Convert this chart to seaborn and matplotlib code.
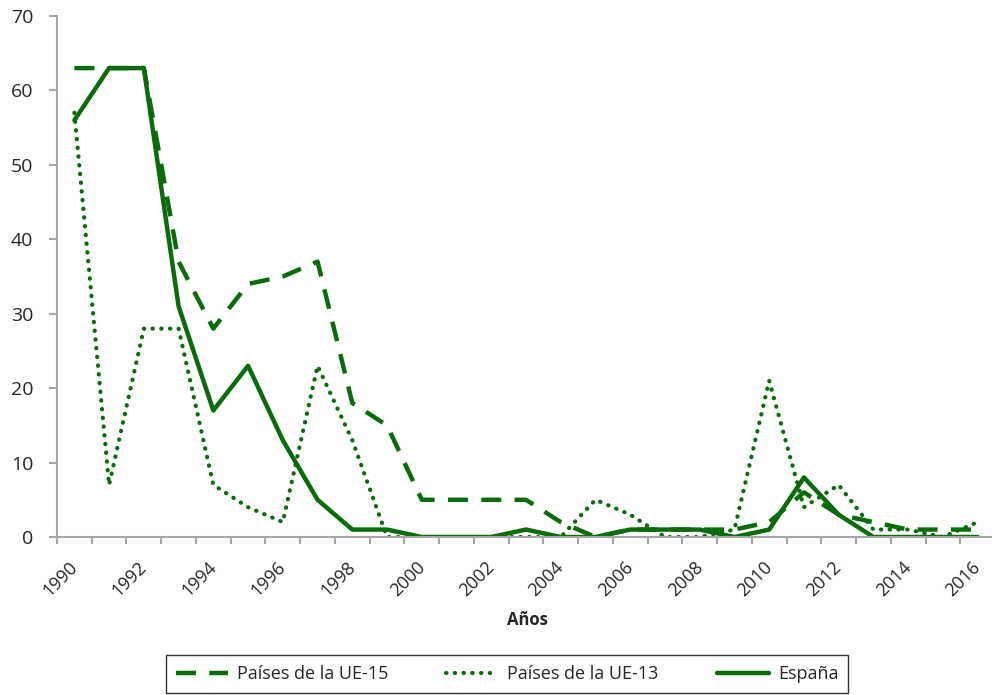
import numpy as np
import pandas as pd
import matplotlib
matplotlib.use("Agg")
import matplotlib.pyplot as plt
import matplotlib.transforms as mtransforms
import seaborn as sns

years = list(range(1990, 2017))
ue15 = [63, 63, 63, 37, 28, 34, 35, 37, 18, 15, 5, 5, 5, 5, 2, 0, 1, 1, 1, 1, 2, 6, 3, 2, 1, 1, 1]
ue13 = [57, 7, 28, 28, 7, 4, 2, 23, 13, 0, 0, 0, 0, 0, 0, 5, 3, 0, 0, 1, 21, 4, 7, 1, 1, 0, 2]
espana = [56, 63, 63, 31, 17, 23, 13, 5, 1, 1, 0, 0, 0, 1, 0, 0, 1, 1, 1, 0, 1, 8, 3, 0, 0, 0, 0]
series_names = ["Países de la UE-15", "Países de la UE-13", "España"]

df = pd.DataFrame({"Año": years, series_names[0]: ue15,
                   series_names[1]: ue13, series_names[2]: espana})

sns.set_style("white")
plt.rcParams["font.family"] = ["Open Sans", "DejaVu Sans"]

green = "#0A6B0A"
fig = plt.figure(figsize=(9.92, 6.95), dpi=100)
ax = fig.add_axes([57 / 992, 1 - 537 / 695, (995 - 57) / 992, (537 - 16) / 695])

sns.lineplot(data=df, x="Año", y=series_names[0], ax=ax, color=green, lw=3.2,
             linestyle=(0, (4.5, 3)), label=series_names[0])
sns.lineplot(data=df, x="Año", y=series_names[1], ax=ax, color=green, lw=3,
             linestyle=(0, (0.1, 2)), dash_capstyle="round", label=series_names[1])
sns.lineplot(data=df, x="Año", y=series_names[2], ax=ax, color=green, lw=3.2,
             linestyle="-", label=series_names[2])

ax.set_xlim(1989.5, 2016.5)
ax.set_ylim(0, 70)
ax.set_yticks(range(0, 71, 10))
ax.set_xticks(years[::2])
ax.set_xticks(np.arange(1989.5, 2017, 1), minor=True)
ax.set_xlabel("")
ax.set_ylabel("")

for s in ["top", "right"]:
    ax.spines[s].set_visible(False)
for s in ["left", "bottom"]:
    ax.spines[s].set_color("#A6A6A6")
    ax.spines[s].set_linewidth(1.5)

ax.tick_params(axis="y", direction="out", length=6, width=1.5, color="#A6A6A6",
               labelsize=14, pad=11, left=True)
ax.tick_params(axis="x", which="major", length=0, labelsize=13, pad=15)
ax.tick_params(axis="x", which="minor", direction="out", length=5, width=1.5,
               color="#A6A6A6", bottom=True)
shift = mtransforms.ScaledTranslation(-6 / 100, 0, fig.dpi_scale_trans)
for lbl in ax.get_xticklabels():
    lbl.set_rotation(45)
    lbl.set_ha("right")
    lbl.set_va("top")
    lbl.set_rotation_mode("anchor")
    lbl.set_transform(lbl.get_transform() + shift)

fig.text(527 / 992, 1 - 620 / 695, "Años", ha="center", va="center",
         fontsize=12, fontweight="bold")

handles, labels = ax.get_legend_handles_labels()
ax.legend_.remove()
leg = fig.legend(handles, labels, loc="center", ncol=3,
                 bbox_to_anchor=(507 / 992, 1 - 674 / 695),
                 fontsize=13, frameon=True, fancybox=False,
                 edgecolor="black", handlelength=2.9, handletextpad=0.5,
                 columnspacing=3.2, borderpad=0.55, borderaxespad=0)
leg.get_frame().set_linewidth(1)

fig.savefig("out.png", dpi=100)
